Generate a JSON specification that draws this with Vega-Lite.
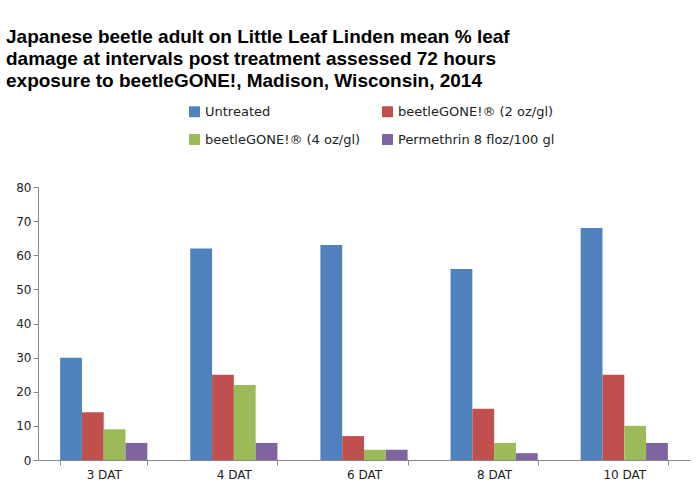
{
  "$schema": "https://vega.github.io/schema/vega-lite/v6.json",
  "autosize": "none",
  "width": 652,
  "height": 273,
  "padding": {"left": 38, "top": 187, "right": 10, "bottom": 43},
  "background": "white",
  "title": {
    "text": ["Japanese beetle adult on Little Leaf Linden mean % leaf", "damage at intervals post treatment assessed 72 hours", "exposure to beetleGONE!, Madison, Wisconsin, 2014"],
    "anchor": "start",
    "frame": "group",
    "dx": -32,
    "offset": 14,
    "font": "Liberation Sans",
    "fontSize": 19,
    "fontWeight": "bold",
    "lineHeight": 22,
    "color": "black"
  },
  "config": {
    "view": {"stroke": null},
    "axis": {"labelFont": "DejaVu Sans", "labelFontSize": 12, "labelColor": "#222", "domainColor": "#888", "tickColor": "#888"}
  },
  "data": {
    "values": [
      {"day": "3 DAT", "treatment": "Untreated", "damage": 30},
      {"day": "3 DAT", "treatment": "beetleGONE!® (2 oz/gl)", "damage": 14},
      {"day": "3 DAT", "treatment": "beetleGONE!® (4 oz/gl)", "damage": 9},
      {"day": "3 DAT", "treatment": "Permethrin 8 floz/100 gl", "damage": 5},
      {"day": "4 DAT", "treatment": "Untreated", "damage": 62},
      {"day": "4 DAT", "treatment": "beetleGONE!® (2 oz/gl)", "damage": 25},
      {"day": "4 DAT", "treatment": "beetleGONE!® (4 oz/gl)", "damage": 22},
      {"day": "4 DAT", "treatment": "Permethrin 8 floz/100 gl", "damage": 5},
      {"day": "6 DAT", "treatment": "Untreated", "damage": 63},
      {"day": "6 DAT", "treatment": "beetleGONE!® (2 oz/gl)", "damage": 7},
      {"day": "6 DAT", "treatment": "beetleGONE!® (4 oz/gl)", "damage": 3},
      {"day": "6 DAT", "treatment": "Permethrin 8 floz/100 gl", "damage": 3},
      {"day": "8 DAT", "treatment": "Untreated", "damage": 56},
      {"day": "8 DAT", "treatment": "beetleGONE!® (2 oz/gl)", "damage": 15},
      {"day": "8 DAT", "treatment": "beetleGONE!® (4 oz/gl)", "damage": 5},
      {"day": "8 DAT", "treatment": "Permethrin 8 floz/100 gl", "damage": 2},
      {"day": "10 DAT", "treatment": "Untreated", "damage": 68},
      {"day": "10 DAT", "treatment": "beetleGONE!® (2 oz/gl)", "damage": 25},
      {"day": "10 DAT", "treatment": "beetleGONE!® (4 oz/gl)", "damage": 10},
      {"day": "10 DAT", "treatment": "Permethrin 8 floz/100 gl", "damage": 5}
    ]
  },
  "mark": {"type": "bar"},
  "encoding": {
    "x": {
      "field": "day", "type": "nominal", "sort": null, "title": null,
      "scale": {"paddingInner": 0.33, "paddingOuter": 0.17},
      "axis": {"labelAngle": 0, "tickBand": "extent", "tickSize": 5, "labelPadding": 4}
    },
    "xOffset": {"field": "treatment", "sort": null},
    "y": {
      "field": "damage", "type": "quantitative", "title": null,
      "scale": {"domain": [0, 80]},
      "axis": {"tickCount": 8, "grid": false, "tickSize": 5}
    },
    "color": {
      "field": "treatment", "type": "nominal", "sort": null,
      "scale": {
        "domain": ["Untreated", "beetleGONE!® (2 oz/gl)", "beetleGONE!® (4 oz/gl)", "Permethrin 8 floz/100 gl"],
        "range": ["#4F81BD", "#C0504D", "#9BBB59", "#8064A2"]
      },
      "legend": {
        "title": null, "orient": "none", "legendX": 150, "legendY": -82,
        "direction": "horizontal",
        "columns": 2, "columnPadding": 20, "rowPadding": 14,
        "symbolType": "square", "symbolSize": 120, "symbolStrokeWidth": 0,
        "labelFont": "DejaVu Sans", "labelFontSize": 13, "labelColor": "#222", "labelLimit": 250
      }
    }
  }
}
